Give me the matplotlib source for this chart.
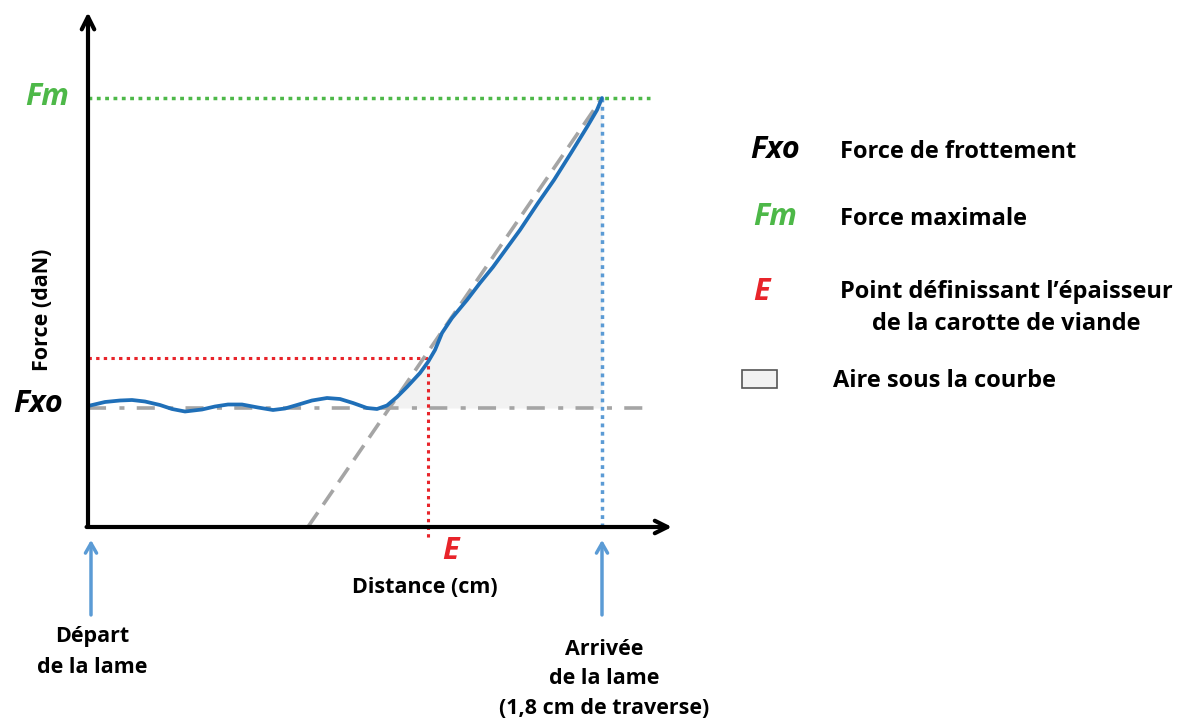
import matplotlib
matplotlib.use("Agg")
import matplotlib.pyplot as plt
import numpy as np

# ---- data (distance in cm, force in arbitrary daN units) ----
dist = [0.0000, 0.0595, 0.1121, 0.1541, 0.1996, 0.2521, 0.2942, 0.3397, 0.3992,
        0.4447, 0.4903, 0.5393, 0.5953, 0.6479, 0.6899, 0.7319, 0.7844, 0.8370,
        0.8825, 0.9280, 0.9770, 1.0121, 1.0471, 1.0821, 1.1171, 1.1626, 1.1906,
        1.2152, 1.2397, 1.2747, 1.3272, 1.3727, 1.4183, 1.5128, 1.5759,
        1.6319, 1.6914, 1.7475, 1.7825, 1.8000]
force = [2.8205, 2.9138, 2.9487, 2.9604, 2.9254, 2.8438, 2.7506, 2.6923, 2.7389,
         2.8089, 2.8555, 2.8555, 2.7855, 2.7273, 2.7622, 2.8438, 2.9487, 3.0070,
         2.9837, 2.8904, 2.7739, 2.7506, 2.8322, 3.0303, 3.2634, 3.5897, 3.8462,
         4.1259, 4.5221, 4.8718, 5.2914, 5.6876, 6.0606, 6.9231, 7.5524,
         8.0886, 8.7179, 9.3240, 9.7203, 10.0]
Fm = 10.0
Fxo = 2.774
E_x = 1.191
E_F = 3.93
x_end = 1.8          # 1,8 cm de traverse
tangent_x = [0.770, 1.800]
tangent_y = [0.0, 10.0]
fill_start = 1.0

# ---- figure ----
W, H = 1185, 724
fig = plt.figure(figsize=(W / 100, H / 100), dpi=100)
ax = fig.add_axes([0, 0, 1, 1])
sx = 1.8 / 514.0
sy = 1 / 42.9
ax.set_xlim(-88 * sx, (W - 88) * sx)
ax.set_ylim(-(H - 527) * sy, 527 * sy)
ax.axis("off")

blue = "#1f6fb8"
lblue = "#5b9bd5"
gray = "#a5a5a5"
green = "#4db848"
red = "#e8242a"

x = np.array(dist)
y = np.array(force)

# area under curve
ax.fill_between(x, y, Fxo, where=(x >= fill_start) & (y >= Fxo), interpolate=True,
                color="#f2f2f2", lw=0, zorder=1)

# reference lines
ax.plot([0, 1.968], [Fm, Fm], color=green, lw=2.5, dashes=(1.1, 1.3),
        dash_capstyle="butt", zorder=2)
ax.plot([0, 1.968], [Fxo, Fxo], color=gray, lw=2.6, dashes=(5.0, 3.7, 1.4, 3.4),
        dash_capstyle="butt", zorder=2)
ax.plot([0, E_x], [E_F, E_F], color=red, lw=2.2, dashes=(1.1, 1.4),
        dash_capstyle="butt", zorder=2)
ax.plot([E_x, E_x], [E_F, -0.30], color=red, lw=2.2, dashes=(1.1, 1.4),
        dash_capstyle="butt", zorder=2)
ax.plot([x_end, x_end], [Fm, 0], color=lblue, lw=2.5, dashes=(1.1, 1.3),
        dash_capstyle="butt", zorder=2)

# tangent
ax.plot(tangent_x, tangent_y, color=gray, lw=2.6, dashes=(4.9, 2.6),
        dash_capstyle="butt", zorder=3)

# curve
ax.plot(x, y, color=blue, lw=2.7, solid_capstyle="round", solid_joinstyle="round",
        zorder=4)

# axes arrows
ax.annotate("", xy=(0, 12.0), xytext=(0, 0),
            arrowprops=dict(arrowstyle="->,head_length=0.9,head_width=0.45",
                            lw=3, color="black", shrinkA=0, shrinkB=0), zorder=5)
ax.annotate("", xy=(2.045, 0), xytext=(-0.005, 0),
            arrowprops=dict(arrowstyle="->,head_length=0.9,head_width=0.45",
                            lw=3, color="black", shrinkA=0, shrinkB=0), zorder=5)

# bottom blue arrows
for xa in (0.0105, x_end):
    ax.annotate("", xy=(xa, -0.30), xytext=(xa, -2.05),
                arrowprops=dict(arrowstyle="->,head_length=0.7,head_width=0.4",
                                lw=2.5, color=lblue, shrinkA=0, shrinkB=0))

hand = dict(family="Open Sans", style="italic", fontweight="bold")
lab = dict(family="Open Sans", fontweight="bold", fontsize=15.5)
leg = dict(family="Open Sans", fontweight="bold", fontsize=17)

ax.text(-0.144, 10.02, "Fm", color=green, fontsize=22, ha="center", va="center", **hand)
ax.text(-0.175, 2.87, "Fxo", color="black", fontsize=22, ha="center", va="center", **hand)
ax.text(-0.161, 5.06, "Force (daN)", rotation=90, ha="center", va="center", **lab)
ax.text(1.268, -0.56, "E", color=red, fontsize=22, ha="center", va="center", **hand)
ax.text(1.180, -1.40, "Distance (cm)", ha="center", va="center", **lab)
ax.text(0.014, -2.91, "Départ\nde la lame", ha="center", va="center",
        linespacing=1.6, **lab)
ax.text(1.807, -3.54, "Arrivée\nde la lame\n(1,8 cm de traverse)", ha="center",
        va="center", linespacing=1.55, **lab)

# legend
ax.text(2.406, 8.79, "Fxo", color="black", fontsize=22, ha="center", va="center", **hand)
ax.text(2.633, 8.74, "Force de frottement", ha="left", va="center", **leg)
ax.text(2.406, 7.23, "Fm", color=green, fontsize=22, ha="center", va="center", **hand)
ax.text(2.633, 7.18, "Force maximale", ha="left", va="center", **leg)
ax.text(2.360, 5.48, "E", color=red, fontsize=22, ha="center", va="center", **hand)
ax.text(3.215, 5.10, "Point définissant l’épaisseur\nde la carotte de viande",
        ha="center", va="center", linespacing=1.45, **leg)
ax.add_patch(plt.Rectangle((2.290, 3.24), 0.123, 0.42, facecolor="#f2f2f2",
                           edgecolor="#555555", lw=1.2))
ax.text(2.609, 3.40, "Aire sous la courbe", ha="left", va="center", **leg)

fig.savefig("out.png", dpi=100)
